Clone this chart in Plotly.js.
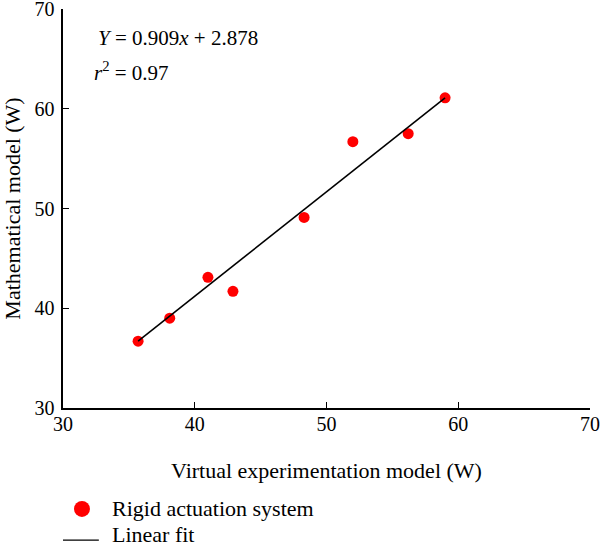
<!DOCTYPE html>
<html>
<head>
<meta charset="utf-8">
<script src="https://cdn.plot.ly/plotly-3.0.1.min.js"></script>
<style>
  html, body { margin: 0; padding: 0; background: #fff; }
  #chart { width: 600px; height: 548px; }
</style>
</head>
<body>
<div id="chart"></div>
<script>
// Measured power: virtual experimentation model vs mathematical model (W)
const virtualModel = [35.7, 38.1, 41.0, 42.9, 48.3, 52.0, 56.2, 59.0];
const mathModel    = [36.7, 39.0, 43.1, 41.7, 49.1, 56.7, 57.5, 61.1];

// End points of the fitted line
const fitX = [35.7, 59.0];
const fitY = [36.7, 61.1];

const xTicks = [30, 40, 50, 60, 70];
const yTicks = [30, 40, 50, 60, 70];

const legendNames = ['Rigid actuation system', 'Linear fit'];

const serif = 'Liberation Serif, Times New Roman, serif';
const RED = '#ff0000';

const traces = [
  {
    x: virtualModel,
    y: mathModel,
    type: 'scatter',
    mode: 'markers',
    name: legendNames[0],
    marker: { color: RED, size: 11 }
  },
  {
    x: fitX,
    y: fitY,
    type: 'scatter',
    mode: 'lines',
    name: legendNames[1],
    line: { color: '#000000', width: 1.6 }
  }
];

const axisCommon = {
  showgrid: false,
  zeroline: false,
  showline: true,
  linecolor: '#000',
  linewidth: 1.6,
  ticks: 'inside',
  ticklen: 6,
  tickwidth: 1.4,
  tickcolor: '#000',
  tickfont: { family: serif, size: 20, color: '#000' },
  automargin: false,
  mirror: false
};

// Key below the plot: text row centres and key-line height in paper units (plot height 399 px)
const keyRowY = [-0.253, -0.318];
const keyLineY = -0.331;
const keyTextX = 0.09;

const layout = {
  width: 600,
  height: 548,
  margin: { l: 63, r: 10, t: 9, b: 140 },
  paper_bgcolor: '#fff',
  plot_bgcolor: '#fff',
  font: { family: serif, color: '#000' },
  showlegend: false,
  xaxis: Object.assign({}, axisCommon, {
    range: [30, 70],
    tickvals: xTicks,
    ticktext: xTicks.map(String),
    ticklabelstandoff: -3,
    title: { text: 'Virtual experimentation model (W)', font: { family: serif, size: 22, color: '#000' }, standoff: 29 }
  }),
  yaxis: Object.assign({}, axisCommon, {
    range: [30, 70],
    tickvals: yTicks,
    ticktext: yTicks.map(String),
    ticklabelstandoff: 3,
    ticklabeloverflow: 'allow',
    title: { text: 'Mathematical model (W)', font: { family: serif, size: 22, color: '#000' }, standoff: 8 }
  }),
  shapes: [
    {
      type: 'circle', xref: 'paper', yref: 'paper',
      xsizemode: 'pixel', ysizemode: 'pixel',
      xanchor: 0.036, yanchor: keyRowY[0],
      x0: -8, x1: 8, y0: -8, y1: 8,
      fillcolor: RED, line: { width: 0 }
    },
    {
      type: 'line', xref: 'paper', yref: 'paper',
      x0: 0.0, x1: 0.068, y0: keyLineY, y1: keyLineY,
      line: { color: '#000', width: 1.3 }
    }
  ],
  annotations: [
    {
      x: 32.5, y: 67.1, xref: 'x', yref: 'y',
      xanchor: 'left', yanchor: 'middle',
      text: '<i>Y</i> = 0.909<i>x</i> + 2.878',
      showarrow: false,
      font: { family: serif, size: 21, color: '#000' }
    },
    {
      x: 32.2, y: 63.7, xref: 'x', yref: 'y',
      xanchor: 'left', yanchor: 'middle',
      text: '<i>r</i><sup>2</sup> = 0.97',
      showarrow: false,
      font: { family: serif, size: 21, color: '#000' }
    }
  ].concat(legendNames.map((name, i) => ({
    x: keyTextX, y: keyRowY[i], xref: 'paper', yref: 'paper',
    xanchor: 'left', yanchor: 'middle',
    text: name,
    showarrow: false,
    font: { family: serif, size: 22, color: '#000' }
  })))
};

Plotly.newPlot('chart', traces, layout, { displayModeBar: false, staticPlot: true });
</script>
</body>
</html>
